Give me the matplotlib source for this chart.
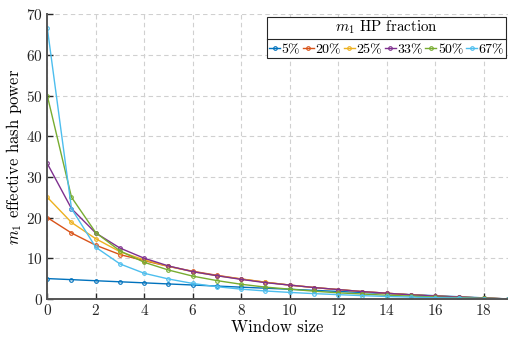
import numpy as np
import matplotlib
matplotlib.use("Agg")
import matplotlib.pyplot as plt
from matplotlib.lines import Line2D

plt.rcParams['font.family'] = 'cmr10'
plt.rcParams['mathtext.fontset'] = 'cm'
plt.rcParams['axes.formatter.use_mathtext'] = True

window = np.arange(20)

hp_5 = [5.0, 4.74, 4.47, 4.21, 3.95, 3.68, 3.42, 3.16, 2.89, 2.63,
        2.37, 2.11, 1.84, 1.58, 1.32, 1.05, 0.79, 0.53, 0.26, 0.0]
hp_20 = [20.0, 16.2, 13.2, 10.9, 9.4, 8.0, 6.8, 5.8, 4.9, 4.1,
         3.4, 2.8, 2.3, 1.8, 1.4, 1.0, 0.7, 0.45, 0.2, 0.0]
hp_25 = [25.0, 18.8, 14.8, 11.6, 9.6, 8.0, 6.7, 5.7, 4.9, 4.1,
         3.4, 2.8, 2.3, 1.8, 1.4, 1.0, 0.7, 0.45, 0.2, 0.0]
hp_33 = [33.3, 22.2, 16.2, 12.5, 10.0, 8.1, 6.7, 5.7, 4.8, 4.0,
         3.4, 2.8, 2.3, 1.8, 1.4, 1.0, 0.7, 0.45, 0.2, 0.0]
hp_50 = [50.0, 25.0, 16.3, 11.8, 9.0, 7.1, 5.6, 4.5, 3.6, 2.9,
         2.4, 1.9, 1.5, 1.2, 0.9, 0.7, 0.45, 0.3, 0.15, 0.0]
hp_67 = [66.7, 22.2, 12.7, 8.6, 6.3, 4.9, 3.8, 3.0, 2.4, 1.95,
         1.6, 1.3, 1.05, 0.8, 0.6, 0.45, 0.3, 0.2, 0.1, 0.0]

labels = ['5%', '20%', '25%', '33%', '50%', '67%']
series = [hp_5, hp_20, hp_25, hp_33, hp_50, hp_67]
colors = ['#0072BD', '#D95319', '#EDB120', '#7E2F8E', '#77AC30', '#4DBEEE']

fig = plt.figure(figsize=(5.08, 3.37), dpi=100)
ax = fig.add_axes([0.093, 0.113, 0.907, 0.845])

for y, lab, c in zip(series, labels, colors):
    ax.plot(window, y, color=c, lw=1.0, marker='o', ms=2.6,
            mfc='none', mew=0.8, label=lab)

ax.set_xlim(0, 19)
ax.set_ylim(0, 70)
ax.set_xticks(range(0, 19, 2))
ax.set_yticks(range(0, 71, 10))
ax.grid(True, ls=(0, (4, 3)), color='#d0d0d0', lw=0.8)
ax.set_axisbelow(True)
for s in ['top', 'right']:
    ax.spines[s].set_visible(False)
for s in ['left', 'bottom']:
    ax.spines[s].set_color('#555555')
    ax.spines[s].set_linewidth(1.4)
ax.tick_params(direction='in', length=4, width=1, color='#262626',
               labelsize=11, labelcolor='#262626', pad=3)

ax.set_xlabel('Window size', fontsize=12, labelpad=1)
ax.set_ylabel('$m_1$ effective hash power', fontsize=12, labelpad=2)

leg = ax.legend(ncol=6, loc='upper right', bbox_to_anchor=(0.995, 0.99),
                title='$m_1$ HP fraction', fontsize=10, title_fontsize=10.8,
                handlelength=0.8, handletextpad=0.1, columnspacing=0.2,
                borderpad=0.12, borderaxespad=0, fancybox=False,
                framealpha=1, edgecolor='#262626')
leg.get_frame().set_linewidth(0.8)

fig.canvas.draw()
lb = leg.get_window_extent()
tb = leg.get_title().get_window_extent()
yline = tb.y0 - 3
inv = fig.transFigure.inverted()
(x0, y0), (x1, _) = inv.transform([(lb.x0, yline), (lb.x1, yline)])
fig.add_artist(Line2D([x0, x1], [y0, y0], color='#262626', lw=0.8,
                      transform=fig.transFigure))

fig.savefig('out.png', dpi=100)
